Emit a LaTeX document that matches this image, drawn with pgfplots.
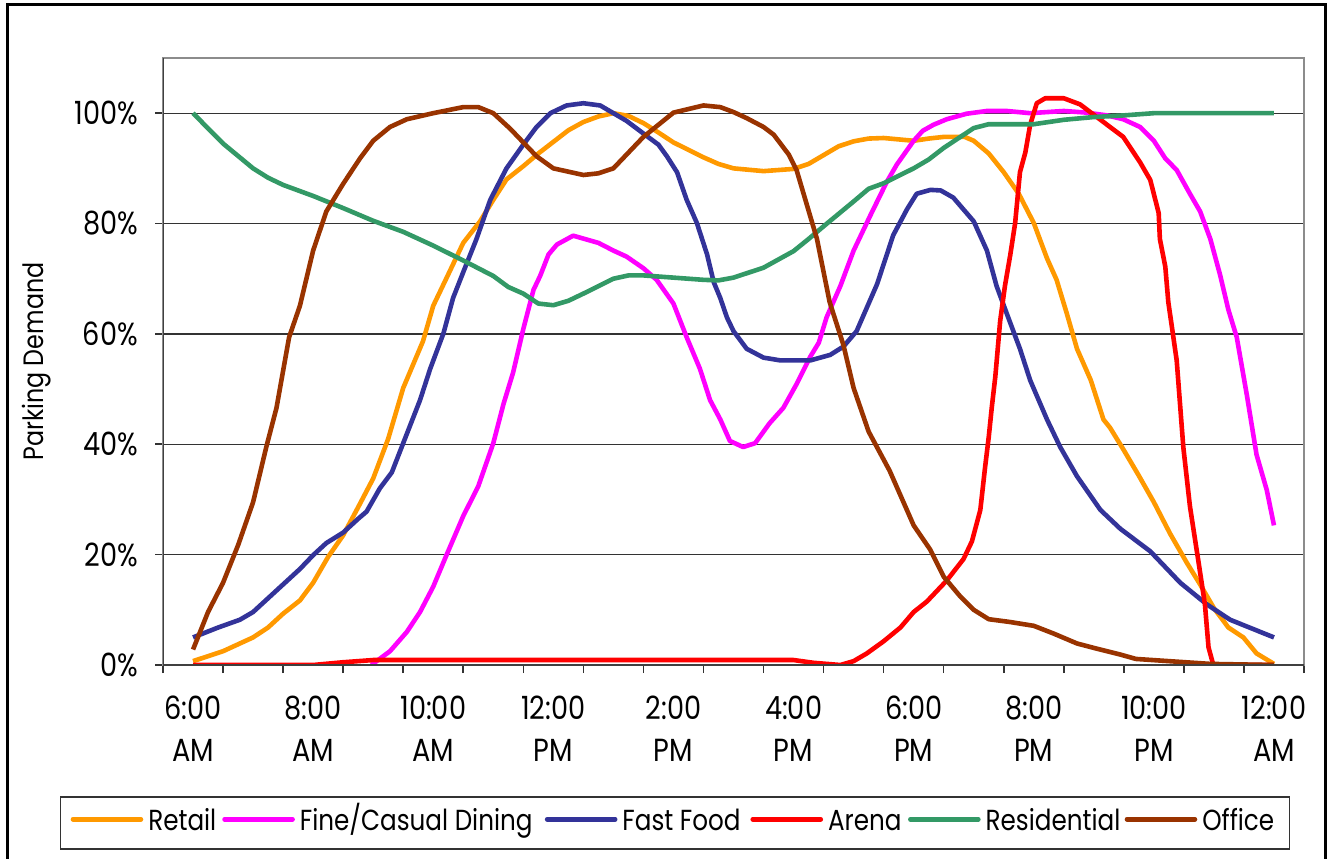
\documentclass[border=0pt]{standalone}
\usepackage{fontspec}
\setmainfont{Poppins}[FakeStretch=0.85]
\usepackage{pgfplots}
\pgfplotsset{compat=1.18}
\definecolor{cRetail}{HTML}{FF9900}
\definecolor{cDining}{HTML}{FF00FF}
\definecolor{cFast}{HTML}{333399}
\definecolor{cArena}{HTML}{FF0000}
\definecolor{cRes}{HTML}{339966}
\definecolor{cOffice}{HTML}{993300}

\pgfplotstableread{
h v
6.00 0.7
6.50 2.5
7.00 5.0
7.25 6.8
7.50 9.3
7.78 11.7
8.00 14.9
8.25 19.6
8.50 23.5
8.75 28.6
9.00 33.8
9.25 41.0
9.50 50.2
9.83 58.7
10.00 65.1
10.22 70.1
10.50 76.5
10.78 80.4
11.00 84.3
11.22 88.0
11.50 90.4
11.75 92.7
12.00 94.8
12.25 96.9
12.50 98.4
12.75 99.4
13.00 100.0
13.25 99.5
13.50 98.2
13.75 96.5
14.00 94.7
14.50 92.0
14.75 90.8
15.00 90.0
15.50 89.5
16.00 89.9
16.25 90.8
16.75 94.0
17.00 94.9
17.25 95.4
17.50 95.5
18.00 95.0
18.25 95.4
18.50 95.7
18.85 95.7
19.00 95.0
19.25 92.7
19.50 89.3
19.75 85.4
20.00 80.1
20.22 73.7
20.38 69.8
20.55 63.7
20.72 57.3
20.95 51.6
21.16 44.5
21.27 43.0
21.49 39.1
21.75 34.3
22.00 29.5
22.27 23.8
22.55 18.5
22.77 14.6
23.00 10.3
23.24 6.8
23.49 5.0
23.71 2.1
24.00 0.2
}\retail

\pgfplotstableread{
h v
8.97 0
9.28 2.5
9.56 6.0
9.78 9.6
10.00 14.2
10.22 19.9
10.50 27.0
10.75 32.4
11.00 40.2
11.17 47.3
11.33 53.0
11.50 60.9
11.67 68.0
11.78 70.5
11.92 74.4
12.06 76.2
12.33 77.8
12.75 76.5
13.00 75.1
13.22 74.0
13.50 71.9
13.72 69.8
14.00 65.5
14.22 59.4
14.44 53.7
14.61 48.0
14.78 44.5
14.94 40.6
15.16 39.5
15.36 40.2
15.60 43.8
15.83 46.6
16.05 50.9
16.28 55.9
16.42 58.4
16.55 63.0
16.78 68.7
17.00 75.1
17.28 81.5
17.55 87.5
17.72 90.7
18.00 95.0
18.15 96.8
18.33 97.9
18.55 98.9
18.88 99.9
19.22 100.4
19.55 100.4
19.94 100.0
20.50 100.4
20.88 100.1
21.22 99.6
21.49 98.9
21.77 97.5
22.00 95.0
22.19 91.8
22.38 89.7
22.60 85.4
22.77 82.2
22.94 77.2
23.10 70.8
23.24 64.4
23.38 59.4
23.55 48.8
23.71 38.1
23.88 31.7
24.00 25.3
}\dining

\pgfplotstableread{
h v
6.00 5.0
6.42 6.8
6.78 8.2
7.00 9.6
7.50 14.6
7.78 17.4
8.00 19.9
8.22 22.1
8.50 24.0
8.75 26.5
8.89 27.8
9.11 32.0
9.31 34.9
9.50 40.2
9.78 48.0
9.95 53.7
10.17 60.1
10.33 66.5
10.50 71.2
10.72 77.2
10.95 84.3
11.22 90.0
11.50 94.3
11.72 97.5
11.95 100.0
12.22 101.4
12.50 101.8
12.78 101.4
13.00 100.0
13.22 98.6
13.44 96.8
13.75 94.3
13.89 92.2
14.06 89.3
14.22 84.3
14.39 80.1
14.56 74.4
14.67 69.4
14.78 66.5
14.89 63.0
15.00 60.5
15.22 57.3
15.50 55.7
15.78 55.2
16.28 55.2
16.61 56.2
16.83 57.7
17.05 60.5
17.39 69.0
17.66 77.9
17.89 82.6
18.05 85.4
18.28 86.1
18.45 86.0
18.66 84.7
19.00 80.4
19.22 75.1
19.38 68.7
19.55 63.7
19.77 57.3
19.94 51.6
20.22 44.5
20.44 39.5
20.72 34.2
21.11 28.1
21.44 24.7
21.94 20.6
22.44 14.9
22.88 11.0
23.27 8.2
24.00 5.0
}\fastfood

\pgfplotstableread{
h v
6.00 0
8.00 0
8.50 0.5
9.00 0.9
16.00 0.9
16.33 0.4
16.78 0
17.00 0.7
17.22 2.1
17.50 4.3
17.78 6.8
18.00 9.6
18.22 11.5
18.55 15.3
18.83 19.2
18.97 22.4
19.11 28.1
19.19 35.9
19.25 41.3
19.30 46.6
19.36 52.3
19.44 62.3
19.52 68.7
19.61 74.4
19.69 80.1
19.77 89.3
19.86 92.9
19.94 97.9
20.05 101.8
20.19 102.7
20.50 102.7
20.77 101.6
21.05 99.3
21.27 97.5
21.49 95.7
21.77 91.1
21.94 87.9
22.08 81.9
22.10 77.2
22.19 72.2
22.24 65.8
22.38 55.2
22.49 39.5
22.60 28.8
22.74 18.9
22.85 11.0
22.91 3.2
22.99 0
24.00 0
}\arena

\pgfplotstableread{
h v
6.00 100
6.50 94.5
7.00 90.0
7.25 88.3
7.50 87.0
8.00 85.0
8.50 82.8
9.00 80.5
9.50 78.5
10.00 76.0
10.50 73.3
11.00 70.5
11.25 68.5
11.50 67.3
11.75 65.5
12.00 65.2
12.25 66.0
12.50 67.3
13.00 70.0
13.25 70.6
13.50 70.6
14.00 70.2
14.50 69.8
14.75 69.7
15.00 70.2
15.50 72.0
16.00 75.0
16.25 77.2
16.50 79.5
17.00 84.0
17.25 86.3
17.50 87.3
18.00 90.0
18.25 91.6
18.50 93.7
19.00 97.3
19.25 98.0
20.00 98.0
20.50 98.8
21.00 99.3
21.50 99.6
22.00 100
24.00 100
}\residential

\pgfplotstableread{
h v
6.00 2.8
6.25 9.6
6.50 14.9
6.75 21.7
7.00 29.5
7.22 39.5
7.39 46.6
7.60 59.4
7.78 65.1
8.00 75.1
8.22 82.2
8.50 87.2
8.78 91.8
9.00 95.0
9.28 97.5
9.56 98.9
10.00 100.0
10.50 101.1
10.75 101.1
11.00 100.0
11.28 97.2
11.72 92.2
12.00 90.0
12.50 88.8
12.75 89.1
13.00 90.0
13.50 95.7
14.00 100.1
14.50 101.4
14.78 101.1
15.00 100.2
15.22 99.1
15.50 97.5
15.67 96.1
15.92 92.5
16.05 89.7
16.39 77.2
16.60 65.8
16.83 58.0
17.00 50.2
17.25 42.3
17.60 35.2
18.00 25.3
18.27 21.0
18.50 16.0
18.77 12.5
19.00 10.0
19.25 8.3
19.60 7.8
20.00 7.1
20.33 5.7
20.72 3.9
21.00 3.1
21.44 1.9
21.70 1.1
22.94 0.2
24.00 0
}\office

\begin{document}
\begin{tikzpicture}
\useasboundingbox (0,0) rectangle (663.5pt,429pt);
\draw[line width=1.5pt] (3.5pt,-5pt) -- (3.5pt,426.5pt) -- (662.5pt,426.5pt) -- (662.5pt,-5pt);
\begin{axis}[
  at={(81.5pt,96.5pt)}, anchor=south west,
  width=570.5pt, height=303.5pt, scale only axis,
  xmin=5.5, xmax=24.5, ymin=0, ymax=110,
  font=\fontsize{15pt}{20pt}\selectfont,
  axis line style={draw=black!45, line width=1pt},
  tick align=outside,
  tick pos=left,
  major tick length=4pt,
  tick style={black!80, line width=0.8pt},
  xtick={5.5,6.5,...,24.5},
  xticklabels={},
  extra x ticks={6,8,10,12,14,16,18,20,22,24},
  extra x tick labels={{6:00\\AM},{8:00\\AM},{10:00\\AM},{12:00\\PM},{2:00\\PM},{4:00\\PM},{6:00\\PM},{8:00\\PM},{10:00\\PM},{12:00\\AM}},
  extra x tick style={major tick length=0pt, tick style={draw=none},
     xticklabel style={align=center, yshift=-12pt}},
  xticklabel style={align=center, font=\fontsize{16pt}{21pt}\selectfont},
  yticklabel style={font=\fontsize{16pt}{20pt}\selectfont, xshift=-5pt},
  ytick={0,20,40,60,80,100},
  yticklabels={0\%,20\%,40\%,60\%,80\%,100\%},
  ymajorgrids,
  major grid style={black!80, line width=0.6pt},
  ylabel={Parking Demand},
  every axis y label/.style={at={(axis description cs:-0.1104,0.5)}, rotate=90, anchor=center, font=\fontsize{14pt}{17pt}\selectfont},
  legend columns=6,
  legend style={at={(axis description cs:0.4487,-0.2603)}, anchor=center,
    draw=black!80, line width=0.6pt, inner xsep=5pt, inner ysep=5.5pt,
    font=\fontsize{14.5pt}{18pt}\selectfont,
    cells={anchor=base},
    nodes={inner sep=0pt, text height=11pt, text depth=4pt},
    /tikz/every odd column/.append style={column sep=2.5pt}},
  legend image code/.code={\draw[#1, line cap=round] (0pt,5.4pt) -- (34pt,5.4pt);},
  every axis plot/.append style={line width=2.3pt, line join=round},
]
\addplot[cRetail] table[x=h,y=v] {\retail};
\addlegendentry{\makebox[37pt][l]{Retail}}
\addplot[cDining] table[x=h,y=v] {\dining};
\addlegendentry{\makebox[122.5pt][l]{Fine/Casual Dining}}
\addplot[cFast] table[x=h,y=v] {\fastfood};
\addlegendentry{\makebox[64pt][l]{Fast Food}}
\addplot[cArena] table[x=h,y=v] {\arena};
\addlegendentry{\makebox[40pt][l]{Arena}}
\addplot[cRes] table[x=h,y=v] {\residential};
\addlegendentry{\makebox[69.5pt][l]{Residential}}
\addplot[cOffice] table[x=h,y=v] {\office};
\addlegendentry{\makebox[38.5pt][l]{Office}}
\draw[black!75, line width=1pt] (rel axis cs:0,1) -- (rel axis cs:0,0) -- (rel axis cs:1,0);
\end{axis}
\end{tikzpicture}
\end{document}
